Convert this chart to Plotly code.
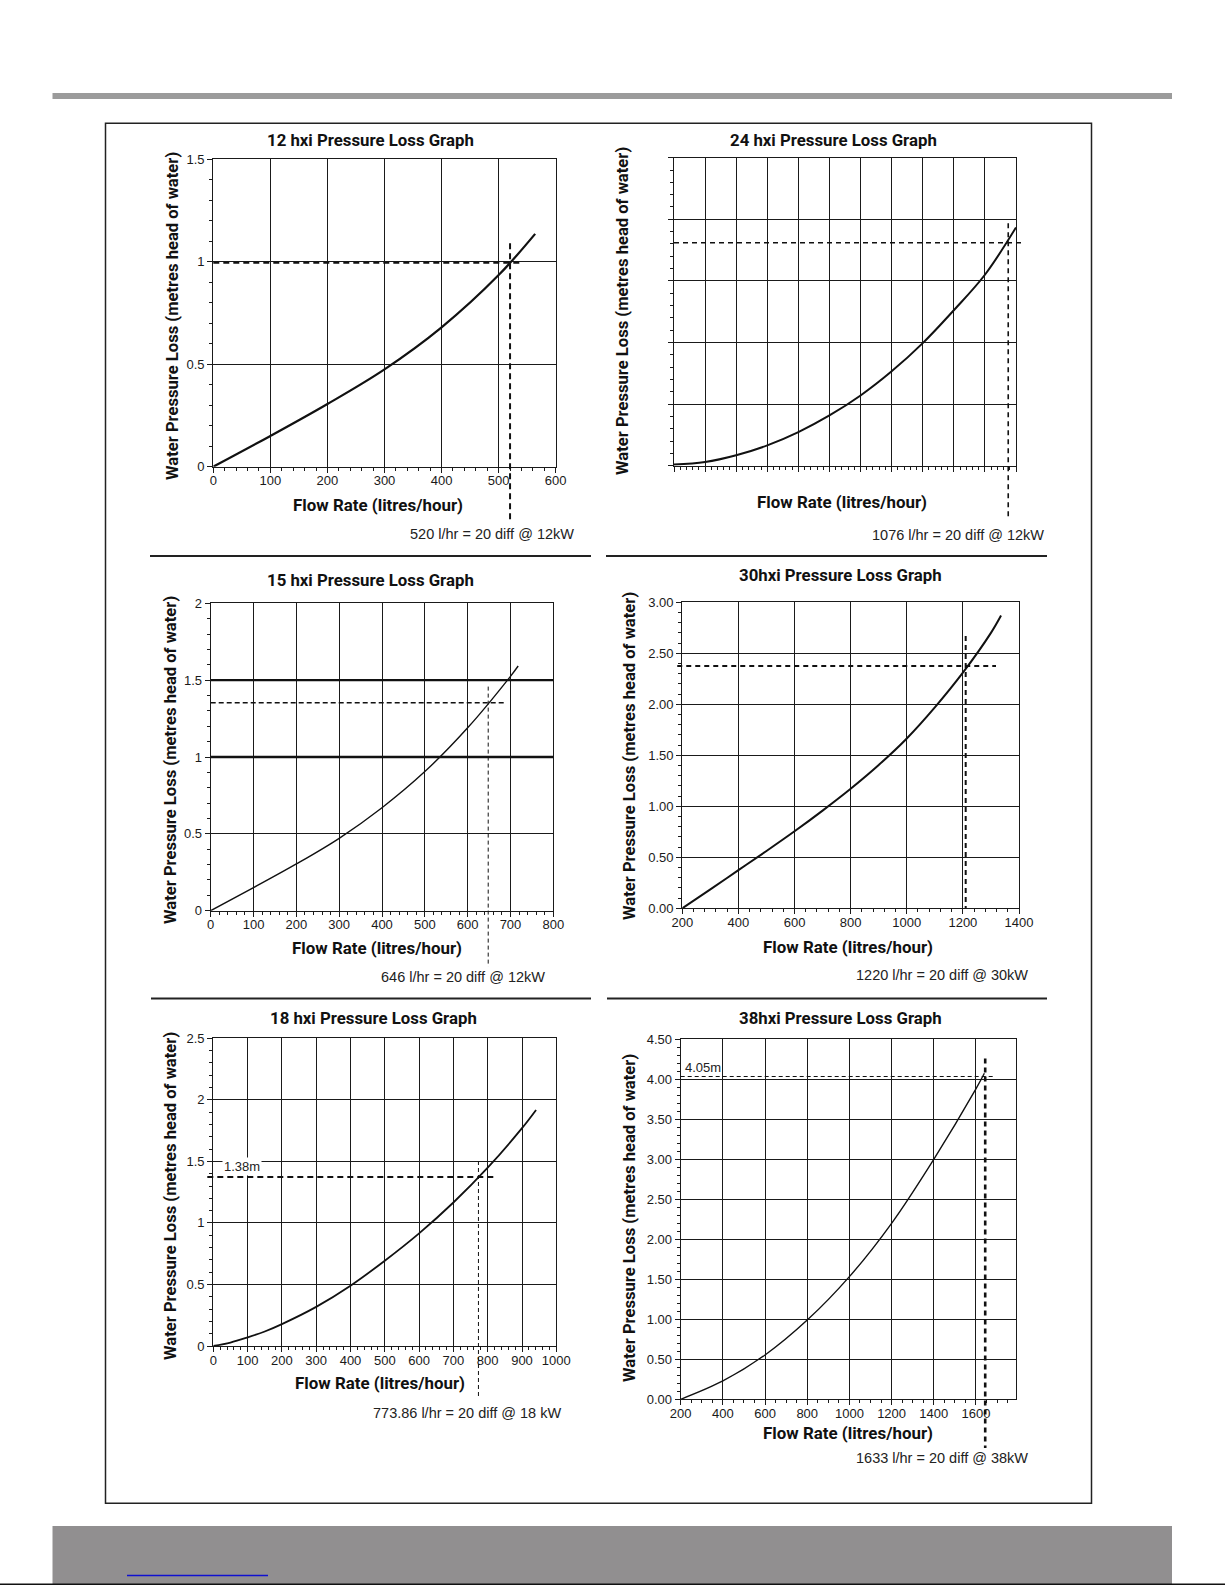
import plotly.graph_objects as go

W, H = 1225, 1585

# ------------------------------------------------------------------ data
titles = [
    "12 hxi Pressure Loss Graph",
    "24 hxi Pressure Loss Graph",
    "15 hxi Pressure Loss Graph",
    "30hxi Pressure Loss Graph",
    "18 hxi Pressure Loss Graph",
    "38hxi Pressure Loss Graph",
]
notes = [
    "520 l/hr = 20 diff @ 12kW",
    "1076 l/hr = 20 diff @ 12kW",
    "646 l/hr = 20 diff @ 12kW",
    "1220 l/hr = 20 diff @ 30kW",
    "773.86 l/hr = 20 diff @ 18 kW",
    "1633 l/hr = 20 diff @ 38kW",
]
y_title = "Water Pressure Loss (metres head of water)"
x_title = "Flow Rate (litres/hour)"

flow_12 = [0, 100, 200, 300, 400, 500, 564]
head_12 = [0, 0.15, 0.306, 0.475, 0.68, 0.935, 1.136]

flow_24 = [0, 100, 200, 300, 400, 500, 600, 700, 800, 900, 1000, 1100]
head_24 = [0.01, 0.03, 0.085, 0.165, 0.273, 0.408, 0.57, 0.766, 0.995, 1.262, 1.55, 1.934]

flow_15 = [0, 100, 200, 300, 400, 500, 600, 700, 718]
head_15 = [0, 0.15, 0.304, 0.471, 0.67, 0.905, 1.19, 1.525, 1.592]

flow_30 = [200, 300, 400, 500, 600, 700, 800, 900, 1000, 1100, 1200, 1300, 1336]
head_30 = [0, 0.186, 0.374, 0.562, 0.755, 0.958, 1.172, 1.405, 1.665, 1.97, 2.31, 2.7, 2.87]

flow_18 = [0, 50, 100, 150, 200, 300, 400, 500, 600, 700, 800, 900, 941]
head_18 = [0, 0.028, 0.07, 0.118, 0.178, 0.318, 0.49, 0.693, 0.915, 1.166, 1.449, 1.77, 1.918]

flow_38 = [200, 400, 600, 800, 1000, 1200, 1400, 1600, 1640]
head_38 = [0, 0.229, 0.554, 0.99, 1.533, 2.2, 3.0, 3.88, 4.075]

flows = [flow_12, flow_24, flow_15, flow_30, flow_18, flow_38]
heads = [head_12, head_24, head_15, head_30, head_18, head_38]

# design point guides (flow where vertical guide sits, head of horizontal guide)
guide_flow = [520, 1075, 648, 1210, 773, 1644]
guide_head = [0.995, 1.81, 1.353, 2.376, 1.373, 4.035]

# extra heavy gridlines on the 15 hxi chart
heavy_levels_15 = [1.0, 1.5]

# value labels written on charts
label_18 = "1.38m"
label_38 = "4.05m"

# ------------------------------------------------------------------ axes setup
x_ranges = [[0, 600], [0, 1100], [0, 800], [200, 1400], [0, 1000], [200, 1790]]
y_ranges = [[0, 1.5], [0, 2.5], [0, 2], [0, 3], [0, 2.5], [0, 4.5]]
x_dtick = [100, 100, 100, 200, 100, 200]
y_dtick = [0.5, 0.5, 0.5, 0.5, 0.5, 0.5]
x_minor = [20, 20, 20, 40, 20, 50]
y_minor = [0.1, 0.1, 0.1, 0.1, 0.1, 0.1]
y_fmt = ["", "", "", ".2f", "", ".2f"]
show_labels = [True, False, True, True, True, True]

# plot boxes in page pixels: left, right, top, bottom
boxes = [
    (213.3, 555.7, 159.3, 466.7),
    (674.0, 1016.0, 157.7, 465.7),
    (210.7, 553.3, 603.3, 910.7),
    (682.3, 1019.0, 602.3, 908.3),
    (213.3, 556.3, 1038.3, 1346.0),
    (680.7, 1016.0, 1039.3, 1399.3),
]

# guide extents (data units) : vertical guide top/bottom head, horizontal guide start/end flow
v_ext = [(1.09, -0.26), (1.967, -0.43), (1.458, -0.364), (2.67, 0.0), (1.503, -0.43), (4.26, -0.61)]
h_ext = [(0, 543), (0, 1121), (0, 690), (182, 1318), (-17.5, 818), (200, 1682)]
v_style = [(2, "6px,4px"), (1.6, "5px,4px"), (1, "4px,3px"), (2, "5px,4px"), (1, "4px,3px"), (2.6, "5px,4px")]
h_style = [(2, "6px,4px"), (1.6, "5px,4px"), (1.4, "5px,3px"), (2, "5px,4px"), (2, "6px,4px"), (1, "4px,3px")]
curve_w = [2.2, 2.0, 1.4, 2.0, 1.8, 1.4]

# text positions in page px
title_pos = [(370, 140), (833, 140), (370, 580), (840, 575), (373, 1018), (840, 1018)]
ytitle_pos = [(172, 316), (623, 311), (170, 760), (629, 756), (170, 1196), (629, 1218)]
xtitle_pos = [(378, 505), (842, 502), (377, 948), (848, 947), (380, 1383), (848, 1433)]
note_pos = [(576, 534), (1046, 535), (547, 977), (1030, 975), (563, 1413), (1030, 1458)]

COND = "Roboto, Liberation Sans, sans-serif"
REG = "Liberation Sans, Arial, Helvetica, sans-serif"
INK = "#1a1a1a"


def px2paper_x(p):
    return p / W


def px2paper_y(p):
    return 1 - p / H


def data2paper_x(i, v):
    l, r, t, b = boxes[i]
    r0, r1 = x_ranges[i]
    return px2paper_x(l + (v - r0) / (r1 - r0) * (r - l))


def data2paper_y(i, v):
    l, r, t, b = boxes[i]
    r0, r1 = y_ranges[i]
    return px2paper_y(b - (v - r0) / (r1 - r0) * (b - t))


fig = go.Figure()
layout = dict(
    width=W, height=H, autosize=False,
    margin=dict(l=0, r=0, t=0, b=0, pad=0, autoexpand=False),
    paper_bgcolor="white", plot_bgcolor="white",
    showlegend=False,
)
shapes = []
annotations = []

for i in range(6):
    sx = "" if i == 0 else str(i + 1)
    xa, ya = "x" + sx, "y" + sx
    l, r, t, b = boxes[i]
    common = dict(
        showline=True, mirror=True, linecolor=INK, linewidth=1.2,
        showgrid=True, gridcolor=INK, gridwidth=1.1,
        zeroline=False, ticks="outside", ticklen=5, tickwidth=1, tickcolor=INK,
        tickfont=dict(family=REG, size=13, color="#1a1a1a"),
        fixedrange=True, automargin=False,
    )
    layout["xaxis" + sx] = dict(
        common, domain=[px2paper_x(l), px2paper_x(r)], range=x_ranges[i],
        dtick=x_dtick[i], tick0=x_ranges[i][0], anchor=ya,
        showticklabels=show_labels[i], ticklabelstandoff=-3,
        minor=dict(ticks="outside", ticklen=3, dtick=x_minor[i], tick0=x_ranges[i][0],
                   tickcolor=INK, showgrid=False),
    )
    layout["yaxis" + sx] = dict(
        common, domain=[px2paper_y(b), px2paper_y(t)], range=y_ranges[i],
        dtick=y_dtick[i], tick0=0, anchor=xa, tickformat=y_fmt[i],
        showticklabels=show_labels[i],
        minor=dict(ticks="outside", ticklen=3, dtick=y_minor[i], tick0=0,
                   tickcolor=INK, showgrid=False),
    )

    fig.add_trace(go.Scatter(
        x=flows[i], y=heads[i], mode="lines", xaxis=xa, yaxis=ya,
        line=dict(color="#111", width=curve_w[i], shape="spline", smoothing=1.0),
        hoverinfo="skip",
    ))

    # vertical guide (data x, paper y)
    vw, vd = v_style[i]
    shapes.append(dict(
        type="line", xref=xa, yref="paper",
        x0=guide_flow[i], x1=guide_flow[i],
        y0=data2paper_y(i, v_ext[i][0]), y1=data2paper_y(i, v_ext[i][1]),
        line=dict(color="#111", width=vw, dash=vd), layer="above",
    ))
    # horizontal guide (paper x, data y)
    hw, hd = h_style[i]
    shapes.append(dict(
        type="line", xref="paper", yref=ya,
        x0=data2paper_x(i, h_ext[i][0]), x1=data2paper_x(i, h_ext[i][1]),
        y0=guide_head[i], y1=guide_head[i],
        line=dict(color="#111", width=hw, dash=hd), layer="above",
    ))

    annotations.append(dict(
        text="<b>" + titles[i] + "</b>", xref="paper", yref="paper",
        x=px2paper_x(title_pos[i][0]), y=px2paper_y(title_pos[i][1]),
        xanchor="center", yanchor="middle", showarrow=False,
        font=dict(family=COND, size=16.8, color="#111"),
    ))
    annotations.append(dict(
        text="<b>" + y_title + "</b>", xref="paper", yref="paper", textangle=-90,
        x=px2paper_x(ytitle_pos[i][0]), y=px2paper_y(ytitle_pos[i][1]),
        xanchor="center", yanchor="middle", showarrow=False,
        font=dict(family=COND, size=16.6, color="#111"),
    ))
    annotations.append(dict(
        text="<b>" + x_title + "</b>", xref="paper", yref="paper",
        x=px2paper_x(xtitle_pos[i][0]), y=px2paper_y(xtitle_pos[i][1]),
        xanchor="center", yanchor="middle", showarrow=False,
        font=dict(family=COND, size=16.9, color="#111"),
    ))
    annotations.append(dict(
        text=notes[i], xref="paper", yref="paper",
        x=px2paper_x(note_pos[i][0]), y=px2paper_y(note_pos[i][1]),
        xanchor="right", yanchor="middle", showarrow=False,
        font=dict(family=REG, size=14.5, color="#222"),
    ))

# heavy gridlines of 15 hxi
for lv in heavy_levels_15:
    shapes.append(dict(type="line", xref="x3 domain", yref="y3", x0=0, x1=1, y0=lv, y1=lv,
                       line=dict(color="#111", width=2.4), layer="above"))

# value labels
annotations.append(dict(text=label_18, xref="x5", yref="y5", x=25, y=1.458,
                        xanchor="left", yanchor="middle", showarrow=False, bgcolor="white",
                        borderpad=1, font=dict(family=REG, size=13, color="#222")))
annotations.append(dict(text=label_38, xref="x6", yref="y6", x=210, y=4.15,
                        xanchor="left", yanchor="middle", showarrow=False,
                        font=dict(family=REG, size=13, color="#222")))


# page furniture
def rect(x0, y0, x1, y1, **kw):
    d = dict(type="rect", xref="paper", yref="paper",
             x0=px2paper_x(x0), x1=px2paper_x(x1), y0=px2paper_y(y0), y1=px2paper_y(y1))
    d.update(kw)
    return d


def hline(x0, x1, y, w=1.5, color="#222"):
    return dict(type="line", xref="paper", yref="paper",
                x0=px2paper_x(x0), x1=px2paper_x(x1), y0=px2paper_y(y), y1=px2paper_y(y),
                line=dict(color=color, width=w))


shapes.append(rect(52.5, 93, 1172, 99, fillcolor="#9b9b9b", line=dict(width=0)))
shapes.append(rect(105.5, 123.3, 1091.5, 1503.3, fillcolor="rgba(0,0,0,0)",
                   line=dict(color="#222", width=1.5)))
shapes.append(hline(150, 591, 556, 2))
shapes.append(hline(606, 1047, 556, 2))
shapes.append(hline(151, 591, 998.5, 2))
shapes.append(hline(607, 1047, 998.5, 2))
shapes.append(rect(52.5, 1526, 1172, 1585, fillcolor="#918f90", line=dict(width=0)))
shapes.append(hline(127, 268, 1575.5, 1.5, "#1010d0"))
shapes.append(hline(0, 1225, 1584.3, 1.5, "#111"))

layout["shapes"] = shapes
layout["annotations"] = annotations
fig.update_layout(**layout)

fig.write_html(
    "out.html",
    config={"displayModeBar": False, "responsive": False},
    post_script="document.body.style.margin='0';document.body.style.padding='0';"
                "document.body.style.overflow='hidden';",
)
